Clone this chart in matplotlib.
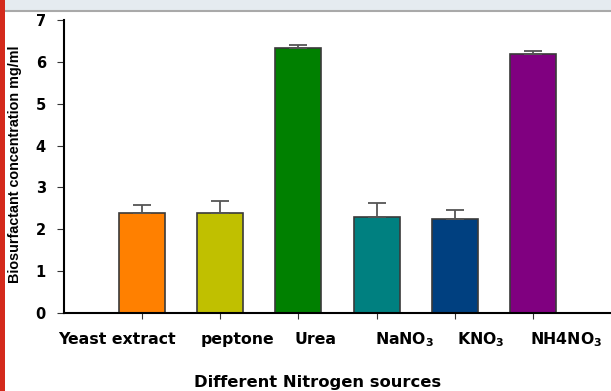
import matplotlib.pyplot as plt
import matplotlib.transforms as mtransforms
from matplotlib.patches import Rectangle

plt.rcParams["font.family"] = ["DejaVu Sans"]
plt.rcParams["mathtext.fontset"] = "dejavusans"

sources = ["Yeast extract", "peptone", "Urea",
           r"NaNO$_\mathbf{3}$", r"KNO$_\mathbf{3}$", r"NH4NO$_\mathbf{3}$"]
concentration = [2.38, 2.38, 6.32, 2.29, 2.25, 6.18]
errors = [0.21, 0.30, 0.08, 0.33, 0.21, 0.07]
colors = ["#ff8000", "#c0c000", "#008000", "#008080", "#004080", "#800080"]
# horizontal nudge of each category label, in points
label_shift = [-18, 12, 12, 20, 19, 24]

fig = plt.figure(figsize=(6.11, 3.91), dpi=100)

# page furniture around the figure
fig.patches.append(Rectangle((0, 1 - 11 / 391), 1, 11 / 391, transform=fig.transFigure,
                             facecolor="#e5ebf0", edgecolor="none", zorder=0))
fig.lines.append(plt.Line2D([0, 1], [1 - 11 / 391] * 2, transform=fig.transFigure,
                            color="#a9a9a9", lw=1.5))
fig.patches.append(Rectangle((0, 0), 5 / 611, 1, transform=fig.transFigure,
                             facecolor="#d42a1c", edgecolor="none", zorder=5))

ax = fig.add_axes([64 / 611, 1 - 313 / 391, 1 - 64 / 611, 293 / 391])
x = list(range(len(sources)))
ax.bar(x, concentration, width=0.59, color=colors, edgecolor="#3a3a3a", linewidth=1.2,
       yerr=[[0] * len(errors), errors],
       error_kw=dict(ecolor="#555555", elinewidth=1.3, capsize=6.5, capthick=1.3))

ax.set_xlim(-1, 6)
ax.set_ylim(0, 7)
ax.set_yticks(range(8))
ax.set_xticks(x)
ax.set_xticklabels([])
for lab in ax.get_yticklabels():
    lab.set_fontweight("bold")
    lab.set_fontsize(10.5)
ax.tick_params(axis="x", length=4, color="#333333")
ax.tick_params(axis="y", length=5, pad=8, color="#333333")

# category names sit slightly off their ticks
base = mtransforms.blended_transform_factory(ax.transData, ax.transAxes)
for xi, name, dx in zip(x, sources, label_shift):
    ax.text(xi, -31 / 293, name, ha="center", va="baseline", fontweight="bold",
            fontsize=11.3, clip_on=False,
            transform=base + mtransforms.ScaledTranslation(dx / 72, 0, fig.dpi_scale_trans))

for side in ["top", "right"]:
    ax.spines[side].set_visible(False)
ax.spines["left"].set_linewidth(1.5)
ax.spines["bottom"].set_linewidth(1.5)

fig.text(15 / 611, 1 - 164 / 391, "Biosurfactant concentration mg/ml", rotation=90,
         ha="center", va="center", fontweight="bold", fontsize=10.4,
         family="Liberation Sans")
fig.text(318 / 611, 1 - 383 / 391, "Different Nitrogen sources",
         ha="center", va="center", fontweight="bold", fontsize=11.8)

fig.savefig("out.png", dpi=100)
